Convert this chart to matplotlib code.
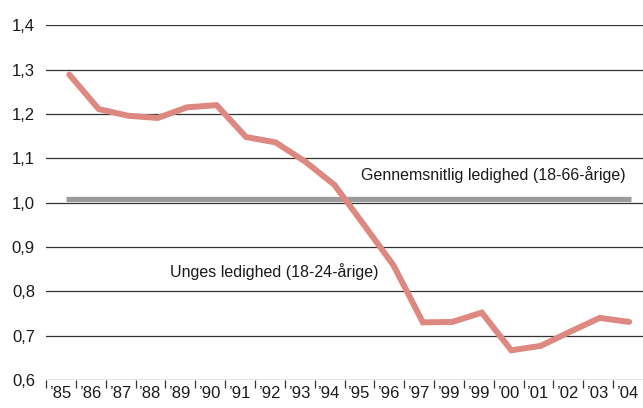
import numpy as np
import matplotlib.pyplot as plt

plt.rcParams['font.family'] = ['Liberation Sans', 'DejaVu Sans']

# year labels as printed (the original repeats '99)
years = ["’85", "’86", "’87", "’88", "’89", "’90", "’91", "’92", "’93", "’94",
         "’95", "’96", "’97", "’99", "’99", "’00", "’01", "’02", "’03", "’04"]
# youth unemployment relative to average unemployment
youth = [1.289, 1.211, 1.196, 1.191, 1.215, 1.220, 1.148, 1.136, 1.093, 1.040,
         0.950, 0.859, 0.730, 0.731, 0.752, 0.667, 0.677, 0.709, 0.740, 0.731]
average = 1.008
y_ticks = [0.6, 0.7, 0.8, 0.9, 1.0, 1.1, 1.2, 1.3, 1.4]
y_labels = ["0,6", "0,7", "0,8", "0,9", "1,0", "1,1", "1,2", "1,3", "1,4"]

fig = plt.figure(figsize=(6.43, 4.08), dpi=100)
ax = fig.add_axes([46 / 643, 28 / 408, 597 / 643, 354.7 / 408])
xs = np.arange(len(youth))

ax.set_xlim(-0.79, 19.47)
ax.set_ylim(0.6, 1.4)
for v in y_ticks:
    ax.axhline(v, color='#333333', lw=0.9, zorder=1)

ax.hlines(average, -0.11, 19.05, color='#9b9b9b', lw=3.8, zorder=2)
ax.plot(xs, youth, color='#dd8880', lw=4.3, solid_joinstyle='miter',
        solid_capstyle='round', zorder=3)

ax.text(18.87, 1.051, "Gennemsnitlig ledighed (18-66-årige)", ha='right',
        va='baseline', fontsize=11.5, color='#1a1a1a')
ax.text(3.42, 0.832, "Unges ledighed (18-24-årige)", ha='left',
        va='baseline', fontsize=11.5, color='#1a1a1a')

for s in ax.spines.values():
    s.set_visible(False)
ax.set_yticks(y_ticks)
ax.set_yticklabels(y_labels, fontsize=12, color='#1a1a1a')
ax.tick_params(axis='y', length=0, pad=8)
ax.set_xticks([])

# category axis: tick marks at boundaries, labels centred between them
ax2 = ax.twiny()
ax2.set_xlim(0, 20)
ax2.xaxis.set_ticks_position('bottom')
ax2.xaxis.set_label_position('bottom')
for s in ax2.spines.values():
    s.set_visible(False)
ax2.set_xticks(np.arange(20))
ax2.set_xticklabels([])
ax2.set_xticks(np.arange(20) + 0.5, minor=True)
ax2.set_xticklabels(years, minor=True, fontsize=12, color='#1a1a1a')
ax2.tick_params(axis='x', which='major', length=6, width=0.9, color='#333333', direction='out')
ax2.tick_params(axis='x', which='minor', length=0, pad=4)

fig.savefig('out.png', dpi=100)
